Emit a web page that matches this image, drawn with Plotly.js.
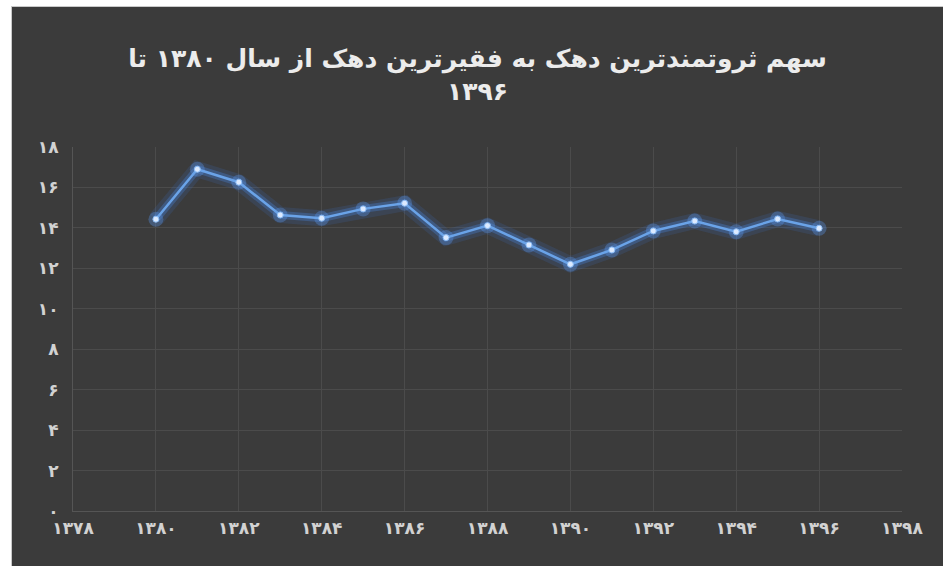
<!DOCTYPE html>
<html>
<head>
<meta charset="utf-8">
<script src="https://cdn.plot.ly/plotly-3.0.1.min.js"></script>
<style>
  html, body { margin: 0; padding: 0; background: #ffffff; width: 943px; height: 566px; overflow: hidden; }
  #frame { position: absolute; left: 11px; top: 6px; width: 932px; height: 560px; background: #c9c9c9; }
  #chart { position: absolute; left: 12px; top: 7px; width: 931px; height: 559px; }
</style>
</head>
<body>
<div id="frame"></div>
<div id="chart"></div>
<script>
// Data (years in Solar Hijri calendar)
const years = [1380, 1381, 1382, 1383, 1384, 1385, 1386, 1387, 1388, 1389, 1390, 1391, 1392, 1393, 1394, 1395, 1396];
const ratio = [14.43, 16.90, 16.26, 14.64, 14.48, 14.94, 15.22, 13.52, 14.11, 13.16, 12.20, 12.91, 13.85, 14.34, 13.81, 14.44, 13.98];

const xTickVals = [1378, 1380, 1382, 1384, 1386, 1388, 1390, 1392, 1394, 1396, 1398];
const xTickText = ['۱۳۷۸', '۱۳۸۰', '۱۳۸۲', '۱۳۸۴', '۱۳۸۶', '۱۳۸۸', '۱۳۹۰', '۱۳۹۲', '۱۳۹۴', '۱۳۹۶', '۱۳۹۸'];
const yTickVals = [0, 2, 4, 6, 8, 10, 12, 14, 16, 18];
const yTickText = ['۰', '۲', '۴', '۶', '۸', '۱۰', '۱۲', '۱۴', '۱۶', '۱۸'];

const titleText = 'سهم ثروتمندترین دهک به فقیرترین دهک از سال ۱۳۸۰ تا<br>۱۳۹۶';

const traces = [
  { x: years, y: ratio, mode: 'lines', line: { color: 'rgba(60,120,210,0.16)', width: 16 }, hoverinfo: 'skip', showlegend: false },
  { x: years, y: ratio, mode: 'lines', line: { color: 'rgba(70,135,225,0.32)', width: 8 }, hoverinfo: 'skip', showlegend: false },
  { x: years, y: ratio, mode: 'markers', marker: { color: 'rgba(90,150,235,0.35)', size: 15 }, hoverinfo: 'skip', showlegend: false },
  { x: years, y: ratio, mode: 'lines+markers', line: { color: '#6aa3e8', width: 2.5 },
    marker: { color: '#dceaff', size: 6, line: { color: '#8cbcf5', width: 1 } }, showlegend: false }
];

const gridColor = '#4b4b4b';
const tickFont = { family: 'DejaVu Sans, sans-serif', size: 17, color: '#d2d2d2', weight: 'bold' };

const layout = {
  width: 931, height: 559,
  paper_bgcolor: '#3b3b3b',
  plot_bgcolor: '#3b3b3b',
  margin: { l: 61, r: 41, t: 140, b: 55 },
  title: {
    text: titleText,
    x: 0.5, xref: 'container',
    y: 0.892, yref: 'container', yanchor: 'top',
    font: { family: 'DejaVu Sans, sans-serif', size: 25, color: '#ececec', weight: 'bold' }
  },
  xaxis: {
    range: [1378, 1398],
    tickvals: xTickVals, ticktext: xTickText,
    showgrid: true, gridcolor: gridColor, gridwidth: 1,
    zeroline: false, showline: true, linecolor: '#555555',
    ticks: '', tickfont: tickFont, ticklabelstandoff: 2
  },
  yaxis: {
    range: [0, 18],
    tickvals: yTickVals, ticktext: yTickText,
    showgrid: true, gridcolor: gridColor, gridwidth: 1,
    zeroline: false, showline: true, linecolor: '#555555',
    ticks: '', tickfont: tickFont, ticklabelstandoff: 10
  },
  showlegend: false
};

Plotly.newPlot('chart', traces, layout, { displayModeBar: false, staticPlot: true });
</script>
</body>
</html>
